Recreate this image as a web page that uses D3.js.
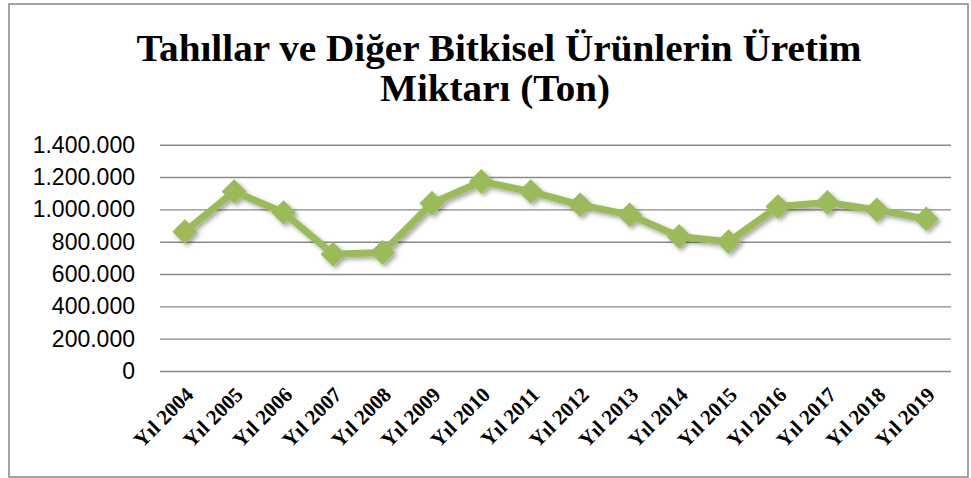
<!DOCTYPE html>
<html><head><meta charset="utf-8">
<script src="https://cdn.jsdelivr.net/npm/d3@7"></script>
<style>body{margin:0;background:#fff}svg{display:block}</style>
</head><body>
<script>
const categories = ["Yıl 2004","Yıl 2005","Yıl 2006","Yıl 2007","Yıl 2008","Yıl 2009","Yıl 2010","Yıl 2011","Yıl 2012","Yıl 2013","Yıl 2014","Yıl 2015","Yıl 2016","Yıl 2017","Yıl 2018","Yıl 2019"];
const values = [862000,1110000,980000,723000,733000,1038000,1172000,1110000,1028000,966000,832000,800000,1017000,1042000,997000,941000];
const yTicks = [0,200000,400000,600000,800000,1000000,1200000,1400000];
const titleLines = ["Tahıllar ve Diğer Bitkisel Ürünlerin Üretim","Miktarı (Ton)"];

const W=971,H=478;
const svg=d3.select("body").append("svg").attr("width",W).attr("height",H);
const defs=svg.append("defs");
const f=defs.append("filter").attr("id","sh").attr("x","-30%").attr("y","-30%").attr("width","160%").attr("height","160%");
f.append("feDropShadow").attr("dx",2.5).attr("dy",2.5).attr("stdDeviation",2).attr("flood-color","#000").attr("flood-opacity",0.35);

svg.append("rect").attr("x",9).attr("y",4).attr("width",959).attr("height",473)
  .attr("fill","#fff").attr("stroke","#878787").attr("stroke-width",1.5);

const x=d3.scaleBand().domain(categories).range([160,951]);
const y=d3.scaleLinear().domain([0,1400000]).range([371,144.7]);
const fmt=v=>d3.format(",")(v).replace(/,/g,".");

const yAxis=svg.append("g").attr("transform","translate(160,0)")
  .call(d3.axisLeft(y).tickValues(yTicks).tickSize(-791).tickFormat(fmt).tickPadding(25));
yAxis.select(".domain").remove();
yAxis.selectAll(".tick line").attr("stroke","#8a8a8a").attr("stroke-width",1.4);
yAxis.selectAll(".tick text").attr("font-family","Liberation Sans, Arial, sans-serif").attr("font-size",23).attr("fill","#000");

const xAxis=svg.append("g").attr("transform","translate(0,371)")
  .call(d3.axisBottom(x).tickSize(0).tickPadding(0));
xAxis.select(".domain").remove();
xAxis.selectAll(".tick text")
  .attr("font-family","Liberation Serif, Times New Roman, serif").attr("font-weight","bold")
  .attr("font-size",21).attr("fill","#000")
  .attr("text-anchor","end").attr("dy",null)
  .attr("transform","translate(10,25) rotate(-45)");

const line=d3.line().x((d,i)=>x(categories[i])+x.bandwidth()/2).y(d=>y(d));
const g=svg.append("g").attr("filter","url(#sh)");
g.append("path").datum(values).attr("d",line).attr("fill","none")
  .attr("stroke","#9BBB59").attr("stroke-width",7).attr("stroke-linejoin","round");
g.selectAll("path.m").data(values).enter().append("path").attr("class","m")
  .attr("d",d3.symbol().type(d3.symbolSquare).size(310))
  .attr("transform",(d,i)=>`translate(${x(categories[i])+x.bandwidth()/2},${y(d)}) rotate(45)`)
  .attr("fill","#9BBB59");

const t=svg.append("g").attr("font-family","Liberation Serif, Times New Roman, serif").attr("font-weight","bold").attr("font-size",38).attr("fill","#000").attr("text-anchor","middle");
t.append("text").attr("x",499).attr("y",61).attr("textLength",725).attr("lengthAdjust","spacingAndGlyphs").text(titleLines[0]);
t.append("text").attr("x",495).attr("y",101).attr("textLength",230).attr("lengthAdjust","spacingAndGlyphs").text(titleLines[1]);
</script>
</body></html>
